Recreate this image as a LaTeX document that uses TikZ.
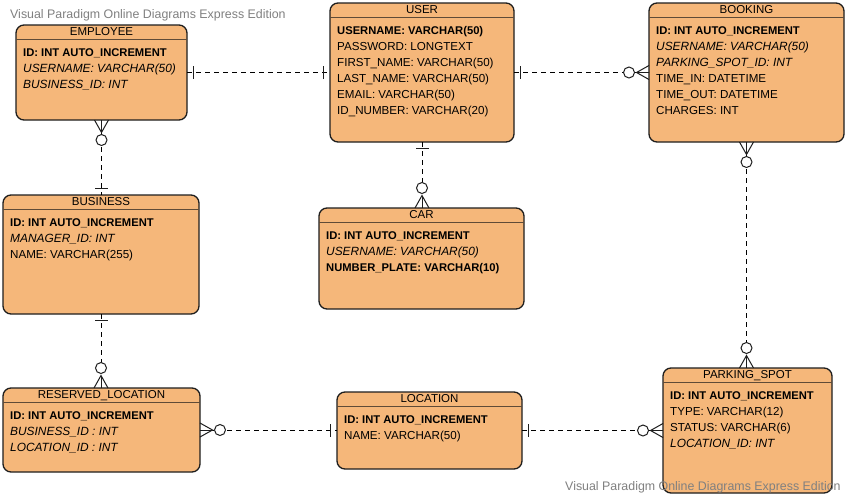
\documentclass[tikz,border=0pt]{standalone}
\usepackage{fontspec}
\setmainfont{Liberation Sans}
\usetikzlibrary{calc}
\definecolor{boxfill}{RGB}{245,183,122}
\definecolor{boxline}{RGB}{30,30,30}
\definecolor{sepcol}{RGB}{95,75,55}
\definecolor{wmgray}{RGB}{128,128,128}
\newcommand\fbold[1]{{\fontsize{11.2}{14}\selectfont\bfseries #1}}
\newcommand\fital[1]{{\fontsize{11.9}{14}\selectfont\itshape #1}}
\newcommand\ermone[2]{\draw[endln] ($(#1)!6.5pt!(#2)!6.5pt!90:(#2)$) -- ($(#1)!6.5pt!(#2)!6.5pt!-90:(#2)$);}
\newcommand\ermmany[2]{%
  \draw[endln] ($(#1)!7pt!90:(#2)$) -- ($(#1)!12.5pt!(#2)$) -- ($(#1)!7pt!-90:(#2)$);
  \draw[endln] (#1) -- ($(#1)!12.5pt!(#2)$);
  \draw[endln, fill=white] ($(#1)!20pt!(#2)$) circle[radius=5.5pt];}
\newcommand\ertable[7]{% name, x, y, w, h, header, fields
  \node[tbl, minimum width=#4pt, minimum height=#5pt] (#1) at (#2,#3) {};
  \draw[sepln] ($(#1.north west)+(0,14)$) -- ($(#1.north east)+(0,14)$);
  \node[hdr] (#1-h) at ($(#1.north)+(0,10.5)$) {#6};
  \foreach \t [count=\i from 0] in {#7}
    \node[fld] (#1-f\i) at ($(#1.north west)+(7,31+16*\i)$) {\t};}
\tikzset{
  tbl/.style={draw=boxline, fill=boxfill, rounded corners=8pt, line width=1.3pt, anchor=north west, inner sep=0pt, outer sep=0pt},
  sepln/.style={draw=sepcol, line width=1pt},
  hdr/.style={anchor=base, inner sep=0pt, font=\fontsize{11.5}{14}\selectfont},
  fld/.style={anchor=base west, inner sep=0pt, font=\fontsize{11.6}{14}\selectfont},
  rel/.style={draw=black, line width=1pt, dash pattern=on 5pt off 4pt},
  endln/.style={draw=boxline, line width=1pt, solid},
  wm/.style={anchor=base west, inner sep=0pt, text=wmgray, font=\fontsize{12.4}{14}\selectfont}
}
\begin{document}
\begin{tikzpicture}[x=1pt,y=-1pt]
\useasboundingbox (0,0) rectangle (849,498);
\fill[white] (0,0) rectangle (849,498);
\node[wm] (wmtop) at (10,18.3) {Visual Paradigm Online Diagrams Express Edition};

\ertable{emp}{16}{25}{171}{95}{EMPLOYEE}{{\fbold{ID: INT AUTO\_INCREMENT}},{\fital{USERNAME: VARCHAR(50)}},{\fital{BUSINESS\_ID: INT}}}
\ertable{usr}{330}{3}{184}{139}{USER}{{\fbold{USERNAME: VARCHAR(50)}},{PASSWORD: LONGTEXT},{FIRST\_NAME: VARCHAR(50)},{LAST\_NAME: VARCHAR(50)},{EMAIL: VARCHAR(50)},{ID\_NUMBER: VARCHAR(20)}}
\ertable{bk}{649}{3}{195}{139}{BOOKING}{{\fbold{ID: INT AUTO\_INCREMENT}},{\fital{USERNAME: VARCHAR(50)}},{\fital{PARKING\_SPOT\_ID: INT}},{TIME\_IN: DATETIME},{TIME\_OUT: DATETIME},{CHARGES: INT}}
\ertable{bus}{3}{195}{196}{119}{BUSINESS}{{\fbold{ID: INT AUTO\_INCREMENT}},{\fital{MANAGER\_ID: INT}},{NAME: VARCHAR(255)}}
\ertable{car}{319}{208}{205}{101}{CAR}{{\fbold{ID: INT AUTO\_INCREMENT}},{\fital{USERNAME: VARCHAR(50)}},{\fbold{NUMBER\_PLATE: VARCHAR(10)}}}
\ertable{rl}{3}{388}{197}{84}{RESERVED\_LOCATION}{{\fbold{ID: INT AUTO\_INCREMENT}},{\fital{BUSINESS\_ID : INT}},{\fital{LOCATION\_ID : INT}}}
\ertable{loc}{337}{392}{185}{77}{LOCATION}{{\fbold{ID: INT AUTO\_INCREMENT}},{NAME: VARCHAR(50)}}
\ertable{ps}{663}{368}{169}{125}{PARKING\_SPOT}{{\fbold{ID: INT AUTO\_INCREMENT}},{TYPE: VARCHAR(12)},{STATUS: VARCHAR(6)},{\fital{LOCATION\_ID: INT}}}

% relationships
\coordinate (r1a) at (emp.east); \coordinate (r1b) at (emp.east -| usr.west);
\coordinate (r2a) at (usr.east); \coordinate (r2b) at (usr.east -| bk.west);
\coordinate (r3a) at (emp.south); \coordinate (r3b) at (emp.south |- bus.north);
\coordinate (r4a) at (usr.south); \coordinate (r4b) at (usr.south |- car.north);
\coordinate (r5a) at (bk.south); \coordinate (r5b) at (bk.south |- ps.north);
\coordinate (r6a) at (bus.south); \coordinate (r6b) at (bus.south |- rl.north);
\coordinate (r7a) at (rl.east); \coordinate (r7b) at (rl.east -| loc.west);
\coordinate (r8a) at (loc.east); \coordinate (r8b) at (loc.east -| ps.west);

\foreach \r in {r1,r2,r3,r4,r5,r6,r7,r8} \draw[rel] (\r a) -- (\r b);

\ermone{r1a}{r1b} \ermone{r1b}{r1a}
\ermone{r2a}{r2b} \ermmany{r2b}{r2a}
\ermmany{r3a}{r3b} \ermone{r3b}{r3a}
\ermone{r4a}{r4b} \ermmany{r4b}{r4a}
\ermmany{r5a}{r5b} \ermmany{r5b}{r5a}
\ermone{r6a}{r6b} \ermmany{r6b}{r6a}
\ermmany{r7a}{r7b} \ermone{r7b}{r7a}
\ermone{r8a}{r8b} \ermmany{r8b}{r8a}

\node[wm] (wmbot) at (565,490.5) {Visual Paradigm Online Diagrams Express Edition};
\end{tikzpicture}
\end{document}
